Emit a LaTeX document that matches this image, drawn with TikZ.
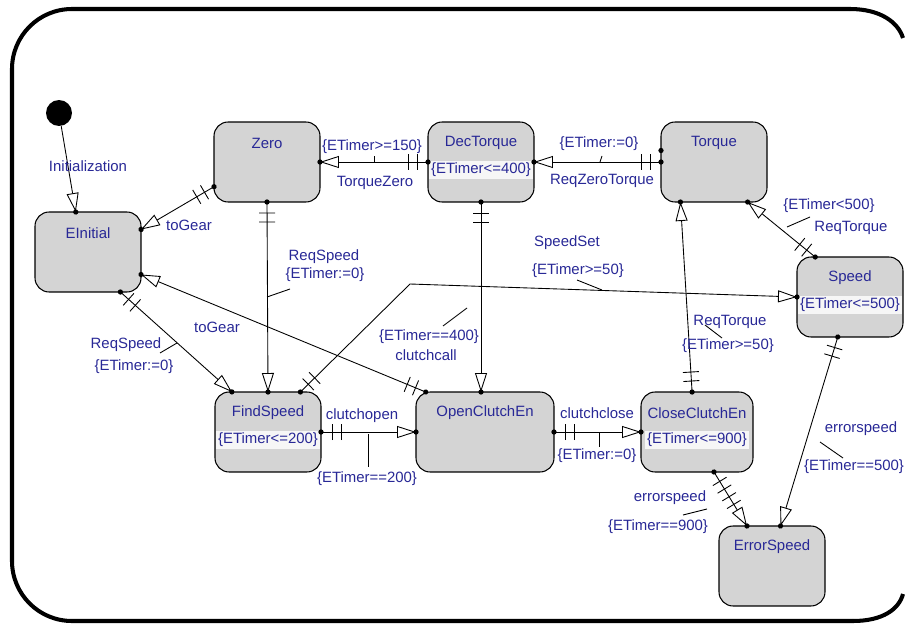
\documentclass[tikz,border=0pt]{standalone}
\usepackage{fontspec}
\setmainfont{Liberation Sans}
\usetikzlibrary{arrows.meta,decorations.markings}
\definecolor{navy}{RGB}{40,40,150}
\definecolor{stategray}{RGB}{212,212,212}
\begin{document}
\begin{tikzpicture}[x=0.02cm, y=-0.02cm, line width=0.5pt]
        \tikzstyle{lbl}=[text=navy, font=\fontsize{8.5}{10}\selectfont, inner sep=1pt]
        \tikzstyle{state}=[draw, line width=0.6pt, fill=stategray, rounded corners=8pt, minimum width=2.12cm, minimum height=1.6cm, outer sep=0pt]
        \tikzstyle{stname}=[label={[lbl, anchor=center, yshift=-0.42cm]north:#1}]
        \tikzstyle{stinv}=[label={[lbl, fill=white!80!stategray, anchor=center, yshift=-0.96cm]north:#1}]
        \tikzstyle{tr}=[-{Triangle[open, length=0.38cm, width=0.24cm]},
            postaction={decorate, decoration={markings,
                mark=at position 1 with {\fill (0,0) circle (1.5pt);}}}]
        \tikzstyle{guard}=[tr, postaction={decorate, decoration={markings,
                mark=at position 0 with {\fill (0,0) circle (1.5pt);},
                mark=at position 0.22cm with {\draw[-] (0,-0.16cm) -- (0,0.16cm);},
                mark=at position 0.40cm with {\draw[-] (0,-0.16cm) -- (0,0.16cm);}}}]
        \tikzstyle{guardtwice}=[guard, postaction={decorate, decoration={markings,
                mark=at position 0.58cm with {\draw[-] (0,-0.16cm) -- (0,0.16cm);},
                mark=at position 0.76cm with {\draw[-] (0,-0.16cm) -- (0,0.16cm);}}}]
        \tikzstyle{border}=[line width=2.3pt]
        \useasboundingbox (0,0) rectangle (909,625);
        \draw[border, rounded corners=1.2cm] (853,621) -- (12,621) -- (12,9) -- (850,9);
        \draw[border] (850,9) .. controls (880,9) and (898,22) .. (903,38);
        \draw[border] (853,621) .. controls (883,621) and (899,609) .. (903,594);
            \node[fill, circle, minimum size=0.52cm, inner sep=0pt] (init) at (59,113) {};
            \node[state, stname=EInitial] (einit) at (88,252) {};
            \node[state, stname=Zero] (zero) at (267,162) {};
            \node[state, stname=DecTorque, stinv={\{ETimer<=400\}}] (dec) at (481,162) {};
            \node[state, stname=Torque] (torque) at (714,162) {};
            \node[state, stname=Speed, stinv={\{ETimer<=500\}}] (speed) at (850,297) {};
            \node[state, stname=FindSpeed, stinv={\{ETimer<=200\}}] (find) at (268,432) {};
            \node[state, stname=OpenClutchEn, minimum width=2.76cm] (open) at (485,432) {};
            \node[state, stname=CloseClutchEn, stinv={\{ETimer<=900\}}, minimum width=2.24cm] (close) at (697,432) {};
            \node[state, stname=ErrorSpeed] (err) at (772,566) {};
            \fill ([yshift=0.23cm]torque.west) circle (1.5pt);
            \draw[tr] (init) -- (einit.107);
            \draw[guard] (zero.205) -- (einit.23);
            \draw[guard] (dec.west) -- (zero.east);
            \draw[guard] (torque.west) -- (dec.east);
            \draw[guard] (zero.south) -- (find.north);
            \draw[guard] (dec.south) -- (dec.south |- open.north);
            \draw[guard] (einit.309) -- (find.132);
            \draw[guard] (open.146) -- (einit.337);
            \draw[guard] (find.51) -- (410,284) -- (speed.west);
            \draw[guard] (close.97) -- (torque.230);
            \draw[guard] (speed.131) -- (torque.310);
            \draw[guard] (find.east) -- (open.west);
            \draw[guard] (open.east) -- (close.west);
            \draw[guardtwice] (close.293) -- (err.122);
            \draw[guard] (speed.253) -- (err.78);
            \node[lbl] (initlbl) at (88,166) {Initialization};
            \node[lbl] (gear1) at (189,225) {toGear};
            \node[lbl] (tz1) at (372,147) {\{ETimer>=150\}};
            \node[lbl] (tz2) at (375,183) {TorqueZero};
            \node[lbl] (rz1) at (599,144) {\{ETimer:=0\}};
            \node[lbl] (rz2) at (602,181) {ReqZeroTorque};
            \node[lbl] (rs1) at (324,257) {ReqSpeed};
            \node[lbl] (rs2) at (325,275) {\{ETimer:=0\}};
            \node[lbl] (gear2) at (217,327) {toGear};
            \node[lbl] (rs3) at (126,345) {ReqSpeed};
            \node[lbl] (rs4) at (134,367) {\{ETimer:=0\}};
            \node[lbl] (ss1) at (567,243) {SpeedSet};
            \node[lbl] (ss2) at (578,271) {\{ETimer>=50\}};
            \node[lbl] (cc1) at (429,337) {\{ETimer==400\}};
            \node[lbl] (cc2) at (426,355) {clutchcall};
            \node[lbl] (rt1) at (730,322) {ReqTorque};
            \node[lbl] (rt2) at (728,346) {\{ETimer>=50\}};
            \node[lbl] (rt3) at (829,206) {\{ETimer<500\}};
            \node[lbl] (rt4) at (851,228) {ReqTorque};
            \node[lbl] (co1) at (362,416) {clutchopen};
            \node[lbl] (co2) at (367,479) {\{ETimer==200\}};
            \node[lbl] (cl1) at (597,413) {clutchclose};
            \node[lbl] (cl2) at (597,456) {\{ETimer:=0\}};
            \node[lbl] (es1) at (670,498) {errorspeed};
            \node[lbl] (es2) at (658,527) {\{ETimer==900\}};
            \node[lbl] (es3) at (861,429) {errorspeed};
            \node[lbl] (es4) at (854,467) {\{ETimer==500\}};
            \draw (374,162) -- (374,156);
            \draw (600,162) -- (602,156);
            \draw (267,297) -- (290,289);
            \draw (160,353) -- (177,343);
            \draw (577,280) -- (602,290);
            \draw (443,326) -- (467,308);
            \draw (705,325) -- (722,338);
            \draw (787,227) -- (810,217);
            \draw (368,434) -- (368,467);
            \draw (599,432) -- (599,447);
            \draw (683,515) -- (707,509);
            \draw (820,442) -- (843,458);
        \end{tikzpicture}
\end{document}
